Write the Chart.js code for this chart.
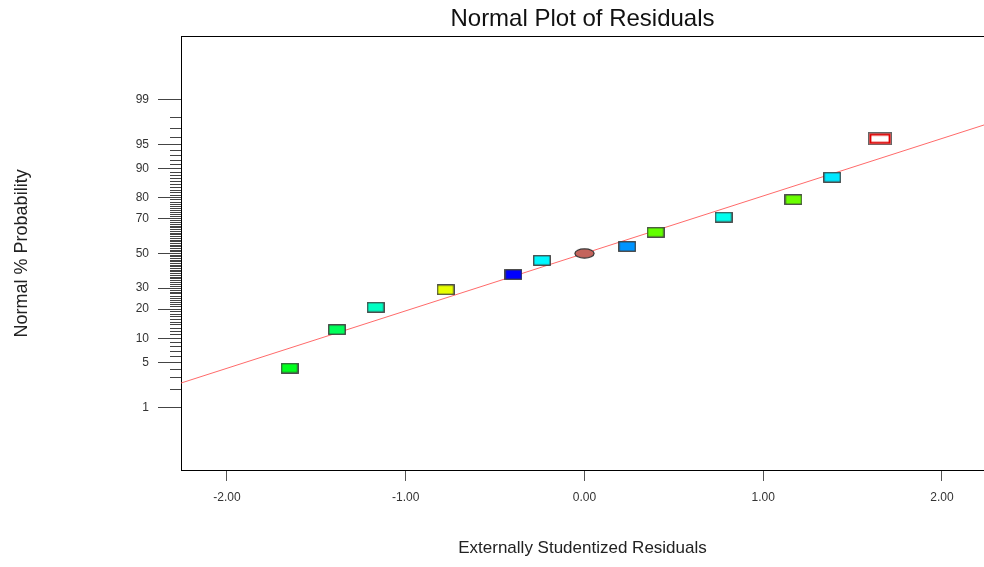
<!DOCTYPE html>
<html>
<head>
<meta charset="utf-8">
<script src="https://cdn.jsdelivr.net/npm/chart.js@4.4.1/dist/chart.umd.min.js"></script>
<style>
  html, body { margin: 0; padding: 0; background: #fff; }
  #wrap { width: 984px; height: 567px; position: relative; }
</style>
</head>
<body>
<div id="wrap"><canvas id="chart"></canvas></div>
<script>
const FONT = "'Liberation Sans', Arial, sans-serif";

// residuals (x) and normal % probability (y)
const residuals = [-1.65, -1.385, -1.168, -0.777, -0.397, -0.238, 0.0, 0.239, 0.398, 0.778, 1.169, 1.386, 1.653];
const probabilities = [4.17, 12.5, 20.83, 29.17, 37.5, 45.83, 50, 54.17, 62.5, 70.83, 79.17, 87.5, 95.83];
const pointColors = ["#00ff1e", "#00ff5a", "#00ffc3", "#e8ff00", "#0000ff", "#00f8ff", "#c4645c",
  "#0094ff", "#62ff00", "#00ffee", "#6aff00", "#00e8ff", "#ffffff"];
const pointShapes = ["box", "box", "box", "box", "box", "box", "ellipse",
  "box", "box", "box", "box", "box", "flagged"];

// reference line end points
const fitLineX = [-2.26, 2.24];
const fitLinePct = [2.5, 97.4];

const xTicks = [-2, -1, 0, 1, 2];
const yLabelPcts = [1, 5, 10, 20, 30, 50, 70, 80, 90, 95, 99];

const yTickPcts = [];
for (let p = 1; p <= 99; p++) {
  yTickPcts.push(p);
}

// inverse normal cdf (Acklam)
function probit(p) {
  const a = [-3.969683028665376e+01, 2.209460984245205e+02, -2.759285104469687e+02, 1.383577518672690e+02, -3.066479806614716e+01, 2.506628277459239e+00];
  const b = [-5.447609879822406e+01, 1.615858368580409e+02, -1.556989798598866e+02, 6.680131188771972e+01, -1.328068155288572e+01];
  const c = [-7.784894002430293e-03, -3.223964580411365e-01, -2.400758277161838e+00, -2.549732539343734e+00, 4.374664141464968e+00, 2.938163982698783e+00];
  const d = [7.784695709041462e-03, 3.224671290700398e-01, 2.445134137142996e+00, 3.754408661907416e+00];
  const pl = 0.02425;
  if (p < pl) {
    const q = Math.sqrt(-2 * Math.log(p));
    return (((((c[0] * q + c[1]) * q + c[2]) * q + c[3]) * q + c[4]) * q + c[5]) /
      ((((d[0] * q + d[1]) * q + d[2]) * q + d[3]) * q + 1);
  }
  if (p > 1 - pl) {
    const q = Math.sqrt(-2 * Math.log(1 - p));
    return -(((((c[0] * q + c[1]) * q + c[2]) * q + c[3]) * q + c[4]) * q + c[5]) /
      ((((d[0] * q + d[1]) * q + d[2]) * q + d[3]) * q + 1);
  }
  const q = p - 0.5;
  const r = q * q;
  return (((((a[0] * r + a[1]) * r + a[2]) * r + a[3]) * r + a[4]) * r + a[5]) * q /
    (((((b[0] * r + b[1]) * r + b[2]) * r + b[3]) * r + b[4]) * r + 1);
}

function makeMarker(shape, fill) {
  const cv = document.createElement("canvas");
  const g = cv.getContext("2d");
  if (shape === "ellipse") {
    cv.width = 21;
    cv.height = 11;
    g.beginPath();
    g.ellipse(10.5, 5.5, 9.6, 4.6, 0, 0, Math.PI * 2);
    g.fillStyle = fill;
    g.fill();
    g.strokeStyle = "#333";
    g.lineWidth = 1.2;
    g.stroke();
  } else if (shape === "flagged") {
    cv.width = 24;
    cv.height = 13;
    g.fillStyle = "#fff";
    g.fillRect(0, 0, 24, 13);
    g.strokeStyle = "#666";
    g.lineWidth = 1.4;
    g.strokeRect(0.7, 0.7, 22.6, 11.6);
    g.strokeStyle = "#e00000";
    g.lineWidth = 2;
    g.strokeRect(2.4, 2.4, 19.2, 8.2);
  } else {
    cv.width = 18;
    cv.height = 11;
    g.fillStyle = fill;
    g.fillRect(1, 1, 16, 9);
    g.strokeStyle = "#3a3a3a";
    g.lineWidth = 1.3;
    g.strokeRect(0.75, 0.75, 16.5, 9.5);
  }
  return cv;
}

const markers = pointShapes.map((s, i) => makeMarker(s, pointColors[i]));

const xMin = -2.257;
const xMax = 2.235;

function noSidePadding(s) {
  s.paddingLeft = 0;
  s.paddingRight = 0;
}

new Chart(document.getElementById("chart"), {
  type: "scatter",
  data: {
    datasets: [
      {
        label: "Residuals",
        data: residuals.map((x, i) => ({ x: x, y: probit(probabilities[i] / 100) })),
        pointStyle: markers,
        pointRadius: 6,
        pointHoverRadius: 6,
        order: 1,
      },
      {
        type: "line",
        label: "Fit",
        data: fitLineX.map((x, i) => ({ x: x, y: probit(fitLinePct[i] / 100) })),
        borderColor: "rgba(255, 90, 90, 0.9)",
        borderWidth: 1,
        pointRadius: 0,
        fill: false,
        order: 2,
      },
    ],
  },
  options: {
    responsive: true,
    maintainAspectRatio: false,
    animation: false,
    layout: { padding: 0, autoPadding: false },
    plugins: {
      legend: { display: false },
      tooltip: { enabled: false },
      title: {
        display: true,
        text: "Normal Plot of Residuals",
        fullSize: false,
        color: "#111",
        font: { family: FONT, size: 24, weight: "normal" },
        padding: { top: 5, bottom: 3 },
      },
    },
    scales: {
      x: {
        type: "linear",
        position: "bottom",
        min: xMin,
        max: xMax,
        afterBuildTicks: (s) => {
          s.ticks = xTicks.map((v) => ({ value: v }));
        },
        afterFit: (s) => {
          s.height = 97;
          noSidePadding(s);
        },
        border: { color: "#000", width: 1 },
        grid: { drawOnChartArea: false, tickLength: 11, tickColor: "#555" },
        ticks: {
          callback: (v) => Number(v).toFixed(2),
          color: "#333",
          font: { family: FONT, size: 12 },
          padding: 9,
          maxRotation: 0,
          autoSkip: false,
        },
        title: {
          display: true,
          text: "Externally Studentized Residuals",
          color: "#222",
          font: { family: FONT, size: 17 },
          padding: { top: 0, bottom: 8 },
        },
      },
      x2: {
        type: "linear",
        axis: "x",
        position: "top",
        min: xMin,
        max: xMax,
        afterFit: (s) => {
          s.height = 0;
          noSidePadding(s);
        },
        border: { color: "#000", width: 1 },
        grid: { drawOnChartArea: false, drawTicks: false },
        ticks: { display: false },
      },
      y: {
        type: "linear",
        position: "left",
        min: -3.27,
        max: 3.27,
        afterBuildTicks: (s) => {
          s.ticks = yTickPcts.map((p) => ({ value: probit(p / 100) }));
        },
        afterFit: (s) => {
          s.width = 181;
        },
        border: { color: "#000", width: 1 },
        grid: {
          drawOnChartArea: false,
          tickLength: 23,
          tickColor: "#444",
          tickBorderDash: (ctx) => (yLabelPcts.includes(yTickPcts[ctx.index]) ? [] : [0, 12, 11, 0]),
        },
        ticks: {
          callback: (v, i) => (yLabelPcts.includes(yTickPcts[i]) ? String(yTickPcts[i]) : ""),
          color: "#333",
          font: { family: FONT, size: 12 },
          padding: 9,
          autoSkip: false,
        },
        title: {
          display: true,
          text: "Normal % Probability",
          color: "#222",
          font: { family: FONT, size: 18 },
          padding: { top: 11, bottom: 0 },
        },
      },
    },
  },
});
</script>
</body>
</html>
